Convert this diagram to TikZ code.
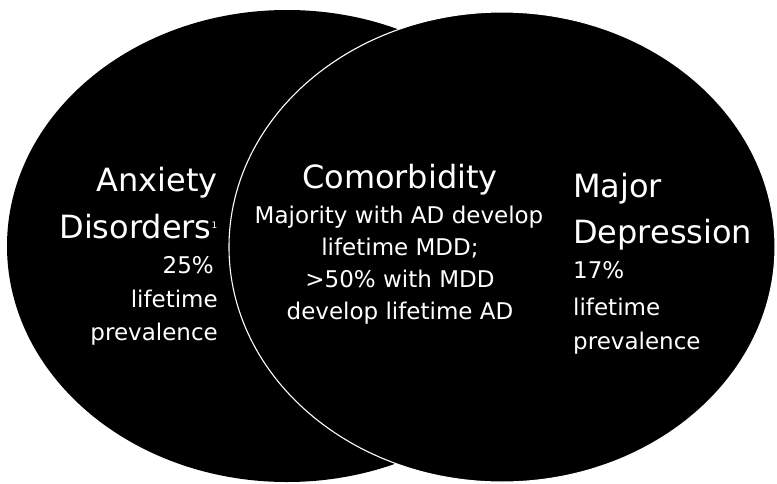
\documentclass[tikz,border=0pt]{standalone}
\usepackage{fontspec}
\setmainfont{DejaVu Sans}
\usepackage{tikz}

\begin{document}
\begin{tikzpicture}[
x=1pt, y=-1pt, % pixel grid of the reference, y pointing down
every node/.style={text=white, inner sep=0pt},
title/.style={font=\fontsize{32}{38}\selectfont},
body/.style={font=\fontsize{23}{28}\selectfont}
]

\useasboundingbox (0,0) rectangle (777,483);

% ================= Circles =================
\fill[black] (287,246) ellipse [x radius=280, y radius=236];
\filldraw[fill=black, draw=white, line width=1.1pt] (502,247) ellipse [x radius=273, y radius=235];

% ================= Nodes =================

% Left circle (right aligned)
\node[title, anchor=base east] (anx) at (218,191) {Anxiety};
\node[title, anchor=base east] (dis) at (218,238) {Disorders\textsuperscript{\fontsize{9}{9}\selectfont 1}};
\node[body, anchor=base east] (adpct) at (214,273) {25\%};
\node[body, anchor=base east] (adlife) at (218,307) {lifetime};
\node[body, anchor=base east] (adprev) at (218,340) {prevalence};

% Overlap (centred)
\node[title, anchor=base] (como) at (400,188) {Comorbidity};
\node[body, anchor=base] (como1) at (399,223) {Majority with AD develop};
\node[body, anchor=base] (como2) at (400,255) {lifetime MDD;};
\node[body, anchor=base] (como3) at (400,287) {>50\% with MDD};
\node[body, anchor=base] (como4) at (400,319) {develop lifetime AD};

% Right circle (left aligned)
\node[title, anchor=base west] (maj) at (573,197) {Major};
\node[title, anchor=base west] (dep) at (573,243) {Depression};
\node[body, anchor=base west] (mdpct) at (573,278) {17\%};
\node[body, anchor=base west] (mdlife) at (573,315) {lifetime};
\node[body, anchor=base west] (mdprev) at (573,349) {prevalence};

\end{tikzpicture}
\end{document}
